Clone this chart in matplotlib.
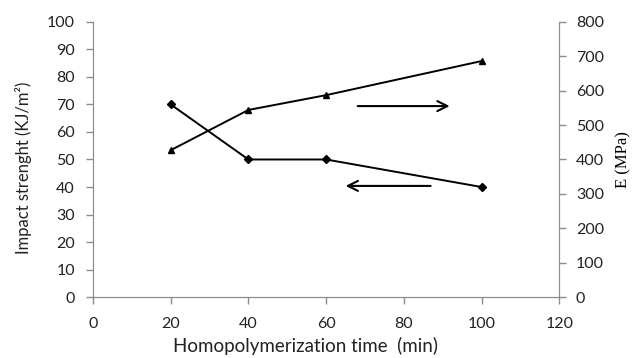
import matplotlib
matplotlib.use("Agg")
import matplotlib.pyplot as plt

# data
time_min = [20, 40, 60, 100]
impact = [70, 50, 50, 40]
modulus = [427, 544, 587, 686]

x_ticks = [0, 20, 40, 60, 80, 100, 120]
left_ticks = list(range(0, 101, 10))
right_ticks = list(range(0, 801, 100))

grey = "#8c8c8c"
plt.rcParams["font.family"] = ["Lato", "DejaVu Sans"]

fig = plt.figure(figsize=(6.37, 3.58), dpi=100)
ax = fig.add_axes([0.146, 0.170, 0.732, 0.769])
ax2 = ax.twinx()

ax.plot(time_min, impact, color="black", lw=1.4, marker="D", ms=4)
ax2.plot(time_min, modulus, color="black", lw=1.4, marker="^", ms=5)

ax.set_xlim(0, 120)
ax.set_ylim(0, 100)
ax2.set_ylim(0, 800)
ax.set_xticks(x_ticks)
ax.set_yticks(left_ticks)
ax2.set_yticks(right_ticks)

for a in (ax, ax2):
    for s in a.spines.values():
        s.set_color(grey)
    a.spines["top"].set_visible(False)
    a.tick_params(colors=grey, labelcolor="#222222", labelsize=11.5, length=5, width=1)
ax.tick_params(axis="x", pad=9)
ax.tick_params(axis="y", pad=8)
ax2.tick_params(axis="y", pad=7)

ax.set_xlabel("Homopolymerization time  (min)", fontsize=13.5, color="#222222")
ax.xaxis.set_label_coords(0.455, -0.143)
ax.set_ylabel("Impact strenght (KJ/m²)", fontsize=12, color="#222222")
ax.yaxis.set_label_coords(-0.13, 0.47)
ax2.set_ylabel("E (MPa)", fontsize=12, family=["Liberation Serif", "DejaVu Serif"], labelpad=8)

# direction arrows
ax.annotate("", xy=(92.5, 69.4), xytext=(67.4, 69.4),
            arrowprops=dict(arrowstyle="->", color="black", lw=1.5, mutation_scale=18))
ax.annotate("", xy=(64.3, 40.4), xytext=(87.6, 40.4),
            arrowprops=dict(arrowstyle="->", color="black", lw=1.5, mutation_scale=18))

fig.savefig("out.png", dpi=100)
